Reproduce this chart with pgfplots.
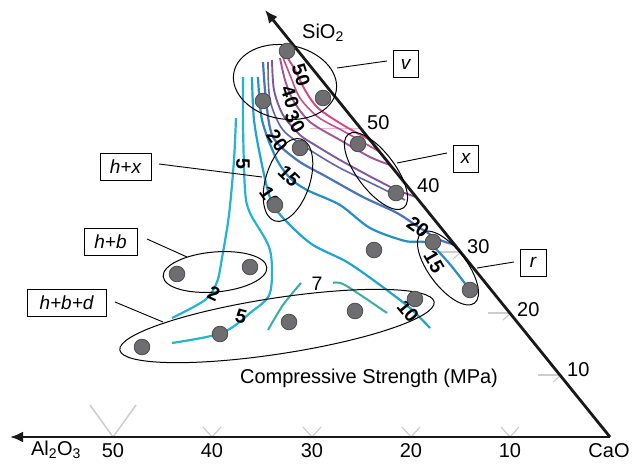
\documentclass[border=0pt]{standalone}
\usepackage{pgfplots}
\pgfplotsset{compat=1.18}
\usepackage{fontspec}
\setmainfont{Liberation Sans}
\usetikzlibrary{arrows.meta}
\definecolor{c50}{RGB}{215,70,130}
\definecolor{c45}{RGB}{190,80,145}
\definecolor{c40}{RGB}{160,85,150}
\definecolor{c30}{RGB}{125,90,160}
\definecolor{c25}{RGB}{100,100,170}
\definecolor{c20}{RGB}{75,115,185}
\definecolor{c15}{RGB}{40,140,200}
\definecolor{c10}{RGB}{30,165,205}
\definecolor{c5}{RGB}{35,180,210}
\definecolor{c7}{RGB}{55,175,160}
\definecolor{dotfill}{RGB}{110,110,112}
\definecolor{tk}{RGB}{205,205,205}
\begin{document}
\begin{tikzpicture}
\begin{axis}[
  width=633pt, height=468pt, scale only axis,
  xmin=0, xmax=633, ymin=0, ymax=468, y dir=reverse,
  hide axis, clip=false,
]
% gray ticks
\addplot[tk, line width=1.5pt] coordinates {(90,405) (113,437) (136,405)};
\addplot[tk, line width=1.2pt] coordinates {(203,427) (212,437) (221,427)};
\addplot[tk, line width=1.2pt] coordinates {(303,427) (312,437) (321,427)};
\addplot[tk, line width=1.2pt] coordinates {(402,427) (411,437) (420,427)};
\addplot[tk, line width=1.2pt] coordinates {(501,427) (510,437) (519,427)};
\addplot[tk, line width=1.2pt] coordinates {(538,375) (561,375)};
\addplot[tk, line width=1.2pt] coordinates {(553,368) (561,375) (553,382)};
\addplot[tk, line width=1.2pt] coordinates {(488,313) (511,313)};
\addplot[tk, line width=1.2pt] coordinates {(503,306) (511,313) (503,320)};
\addplot[tk, line width=1.2pt] coordinates {(438,252) (461,252)};
\addplot[tk, line width=1.2pt] coordinates {(453,245) (461,252) (453,259)};
\addplot[c50!40, line width=1pt] coordinates {(310,129) (362,129)};
% contours
\addplot[c5, line width=2.2pt, smooth, tension=0.5] coordinates {(236,118) (234,160) (229,215) (222,258) (217,282) (205,300) (172,318)};
\addplot[c5, line width=2.2pt, smooth, tension=0.5] coordinates {(243,77) (243,125) (245,190) (250,213) (270,250) (270,293) (250,313) (222,333) (172,343)};
\addplot[c7, line width=2pt, smooth, tension=0.5] coordinates {(268,330) (283,305) (301,283)};
\addplot[c7, line width=2pt, smooth, tension=0.5] coordinates {(333,283) (345,285) (387,313)};
\addplot[c10, line width=2.2pt, smooth, tension=0.5] coordinates {(252,77) (254,120) (262,165) (272,203) (290,225) (313,245) (347,262) (380,285) (410,308) (430,328)};
\addplot[c15, line width=2.2pt, smooth, tension=0.5] coordinates {(258,77) (262,120) (276,158) (290,178) (307,190) (340,205) (370,228) (405,241) (428,243) (448,262) (470,290)};
\addplot[c20, line width=2.2pt, smooth, tension=0.5] coordinates {(263,62) (266,100) (273,137) (297,160) (327,177) (363,197) (397,213) (420,228) (440,240) (456,245)};
\addplot[c25, line width=1.6pt, smooth, tension=0.5] coordinates {(268,62) (270,100) (283,130) (310,150) (340,168) (375,185) (405,200)};
\addplot[c30, line width=1.9pt, smooth, tension=0.5] coordinates {(272,60) (274,90) (283,115) (300,135) (315,145) (340,160) (373,178) (397,190) (416,197)};
\addplot[c40, line width=1.9pt, smooth, tension=0.5] coordinates {(280,58) (285,80) (293,100) (310,122) (340,140) (370,157) (390,165)};
\addplot[c45, line width=1.6pt, smooth, tension=0.5] coordinates {(282,55) (290,75) (300,98) (318,117) (345,132) (380,152)};
\addplot[c50, line width=1.9pt, smooth, tension=0.5] coordinates {(284,52) (295,70) (305,90) (318,108) (343,125) (370,140)};
% axes
\addplot[black!90, line width=2.8pt, -{Latex[length=13pt,width=11pt]}] coordinates {(610,437) (10,437)};
\addplot[black!90, line width=2.8pt, -{Latex[length=13pt,width=11pt]}] coordinates {(610,437) (265,10)};
% data points
\addplot[only marks, mark=*, mark size=7.8pt, mark options={fill=dotfill, draw=black!70, line width=0.8pt}] coordinates {
(287,51) (263,101) (323,98) (300,148) (275,205) (358,144) (396,193) (433,242) (470,290) (374,250) (177,274) (250,267) (142,347) (220,334) (289,322) (355,311) (415,299)};
% ellipses
\draw[black, line width=1pt, rotate around={-10:(axis cs:285,82)}] (axis cs:285,82) ellipse [x radius=52pt, y radius=37pt];
\draw[black, line width=1pt, rotate around={72:(axis cs:288,180)}] (axis cs:288,180) ellipse [x radius=43pt, y radius=22pt];
\draw[black, line width=1pt, rotate around={-53:(axis cs:376,171)}] (axis cs:376,171) ellipse [x radius=46pt, y radius=19pt];
\draw[black, line width=1pt, rotate around={-53:(axis cs:448,268)}] (axis cs:448,268) ellipse [x radius=44pt, y radius=19pt];
\draw[black, line width=1pt, rotate around={5:(axis cs:215,272)}] (axis cs:215,272) ellipse [x radius=52pt, y radius=20pt];
\draw[black, line width=1pt, rotate around={8.7:(axis cs:277,326)}] (axis cs:277,326) ellipse [x radius=159pt, y radius=28pt];
% leader lines and boxes
\draw[black, line width=0.9pt] (axis cs:337,68) -- (axis cs:387,61);
\draw[black, line width=0.9pt] (axis cs:397,163) -- (axis cs:447,153);
\draw[black, line width=0.9pt] (axis cs:159,164) -- (axis cs:262,177);
\draw[black, line width=0.9pt] (axis cs:147,239) -- (axis cs:187,257);
\draw[black, line width=0.9pt] (axis cs:115,302) -- (axis cs:163,322);
\draw[black, line width=0.9pt] (axis cs:477,268) -- (axis cs:514,262);
\tikzset{bx/.style={draw=black, line width=0.9pt, font=\fontsize{19}{22}\selectfont\itshape, inner sep=0pt, minimum height=27pt}}
\node[bx, minimum width=25pt] at (axis cs:405.5,64) {v};
\node[bx, minimum width=25pt] at (axis cs:465.5,158.5) {x};
\node[bx, minimum width=51pt] at (axis cs:125.5,166.5) {h+x};
\node[bx, minimum width=53pt] at (axis cs:110.5,241.5) {h+b};
\node[bx, minimum width=79pt] at (axis cs:66.5,303) {h+b+d};
\node[bx, minimum width=26pt] at (axis cs:533,262.5) {r};
% contour labels
\tikzset{cl/.style={font=\fontsize{19.5}{21}\selectfont\bfseries, inner sep=0pt}}
\node[cl, rotate=-72] at (axis cs:301,75) {50};
\node[cl, rotate=-72] at (axis cs:290,97) {40};
\node[cl, rotate=-60] at (axis cs:295,122) {30};
\node[cl, rotate=-55] at (axis cs:277,141) {20};
\node[cl, rotate=-45] at (axis cs:289,176) {15};
\node[cl, rotate=-55] at (axis cs:270,198) {10};
\node[cl, rotate=-90] at (axis cs:243,164) {5};
\node[cl, rotate=-25] at (axis cs:214,294) {2};
\node[cl, rotate=-15] at (axis cs:241,317) {5};
\node[font=\fontsize{19.5}{21}\selectfont, inner sep=0pt] at (axis cs:317,284) {7};
\node[cl, rotate=-50] at (axis cs:408,311) {10};
\node[cl, rotate=-35] at (axis cs:418,227) {20};
\node[cl, rotate=-60] at (axis cs:434,262) {15};
% axis labels
\tikzset{al/.style={font=\fontsize{20}{22}\selectfont, inner sep=0pt}}
\node[al] at (axis cs:323,33) {SiO\textsubscript{2}};
\node[al] at (axis cs:56,450) {Al\textsubscript{2}O\textsubscript{3}};
\node[al] at (axis cs:609,451) {CaO};
\node[al] at (axis cs:113,451) {50};
\node[al] at (axis cs:212,451) {40};
\node[al] at (axis cs:312,451) {30};
\node[al] at (axis cs:411,451) {20};
\node[al] at (axis cs:510,451) {10};
\node[al, anchor=west] at (axis cs:367,123) {50};
\node[al, anchor=west] at (axis cs:417,186) {40};
\node[al, anchor=west] at (axis cs:467,247) {30};
\node[al, anchor=west] at (axis cs:517,310) {20};
\node[al, anchor=west] at (axis cs:567,370) {10};
\node[al] at (axis cs:369,378) {Compressive Strength (MPa)};
\end{axis}
\pgfresetboundingbox
\path[use as bounding box] (current axis.south west) rectangle (current axis.north east);
\end{tikzpicture}
\end{document}
